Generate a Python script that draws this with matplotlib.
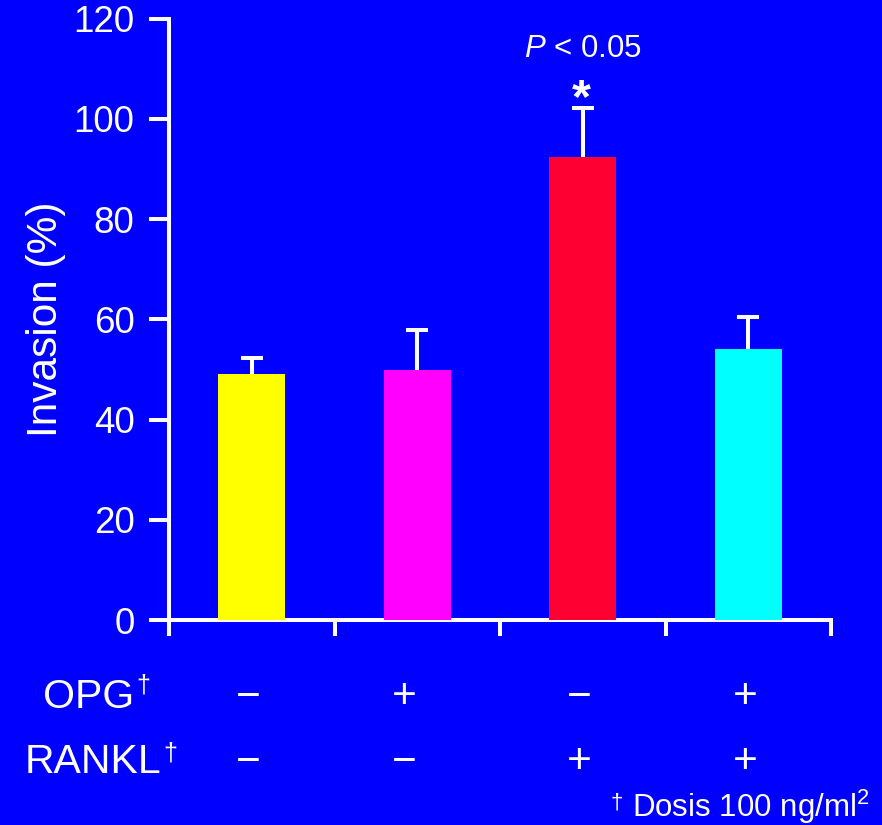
import numpy as np
import matplotlib
matplotlib.use("Agg")
import matplotlib.pyplot as plt

plt.rcParams["font.family"] = ["Liberation Sans", "DejaVu Sans"]
plt.rcParams["mathtext.fontset"] = "custom"
plt.rcParams["mathtext.rm"] = "Liberation Sans"
plt.rcParams["mathtext.it"] = "Liberation Sans:italic"

# Invasion assay results
groups = ["Control", "OPG", "RANKL", "OPG + RANKL"]
invasion = [49.1, 49.9, 92.4, 54.1]
sem = [3.2, 8.0, 9.8, 6.4]
opg = ["\u2212", "+", "\u2212", "+"]
rankl = ["\u2212", "\u2212", "+", "+"]
bar_colors = ["#FFFF00", "#FF00FF", "#FF0033", "#00FFFF"]
yticks = [0, 20, 40, 60, 80, 100, 120]
significance = "$P$ < 0.05"

BG = "#0000FF"
W, H = 882, 825
# horizontal centres (pixels) of the treatment table columns
table_cols = [248, 404, 579, 745]


def fx(px):
    return px / W


def fy(py):
    return 1 - py / H


fig = plt.figure(figsize=(W / 100, H / 100), dpi=100, facecolor=BG)
ax = fig.add_axes([fx(169), fy(620), fx(831) - fx(169), fy(18.7) - fy(620)])
ax.set_facecolor(BG)

x = np.arange(len(groups)) + 0.5
ax.bar(x, invasion, width=0.405, color=bar_colors, zorder=3)
_, caps, _ = ax.errorbar(x, invasion, yerr=[np.zeros(len(sem)), sem],
                         fmt="none", ecolor="white", elinewidth=2.9,
                         capsize=8.2, capthick=2.9, zorder=2)
caps[0].set_visible(False)  # one-sided bars: no cap on the bar top

ax.set_xlim(0, 4)
ax.set_ylim(0, 120)
for side in ("top", "right"):
    ax.spines[side].set_visible(False)
for side in ("left", "bottom"):
    ax.spines[side].set_color("white")
    ax.spines[side].set_linewidth(2.9)
    ax.spines[side].set_capstyle("projecting")

ax.set_xticks(np.arange(0, 5))
ax.set_xticklabels([])
ax.set_yticks(yticks)
ax.set_yticklabels([str(v) for v in yticks])
ax.tick_params(axis="x", direction="out", length=11.5, width=2.9,
               color="white")
ax.tick_params(axis="y", direction="out", length=14.4, width=2.9,
               color="white", labelcolor="white", labelsize=26.5, pad=10.5)

ax.set_ylabel("Invasion (%)", color="white", fontsize=30.5, labelpad=5)

# Significance marker above the RANKL bar
top = invasion[2] + sem[2]
ax.text(x[2], top + 10.2, significance, color="white", fontsize=22.5,
        ha="center", va="baseline")
ax.text(x[2] - 0.01, top - 0.8, "*", color="white", fontsize=35,
        fontweight="bold", ha="center", va="baseline")

# Treatment table below the axis
rows = [("OPG", opg, 708, 43, 136, 693), ("RANKL", rankl, 773, 25, 163, 761)]
for name, signs, base, left, dag_x, dag_base in rows:
    fig.text(fx(left), fy(base), name, color="white", fontsize=29.5,
             ha="left", va="baseline")
    fig.text(fx(dag_x), fy(dag_base), "\u2020", color="white",
             fontsize=18, ha="left", va="baseline")
    for cx, s in zip(table_cols, signs):
        fig.text(fx(cx), fy(base), s, color="white", fontsize=30.5,
                 ha="center", va="baseline")

fig.text(fx(869), fy(817), "Dosis 100 ng/ml$^{2}$", color="white",
         fontsize=22.5, ha="right", va="baseline")
fig.text(fx(611), fy(808), "\u2020", color="white", fontsize=16,
         ha="left", va="baseline")

fig.savefig("out.png", dpi=100, facecolor=BG)
